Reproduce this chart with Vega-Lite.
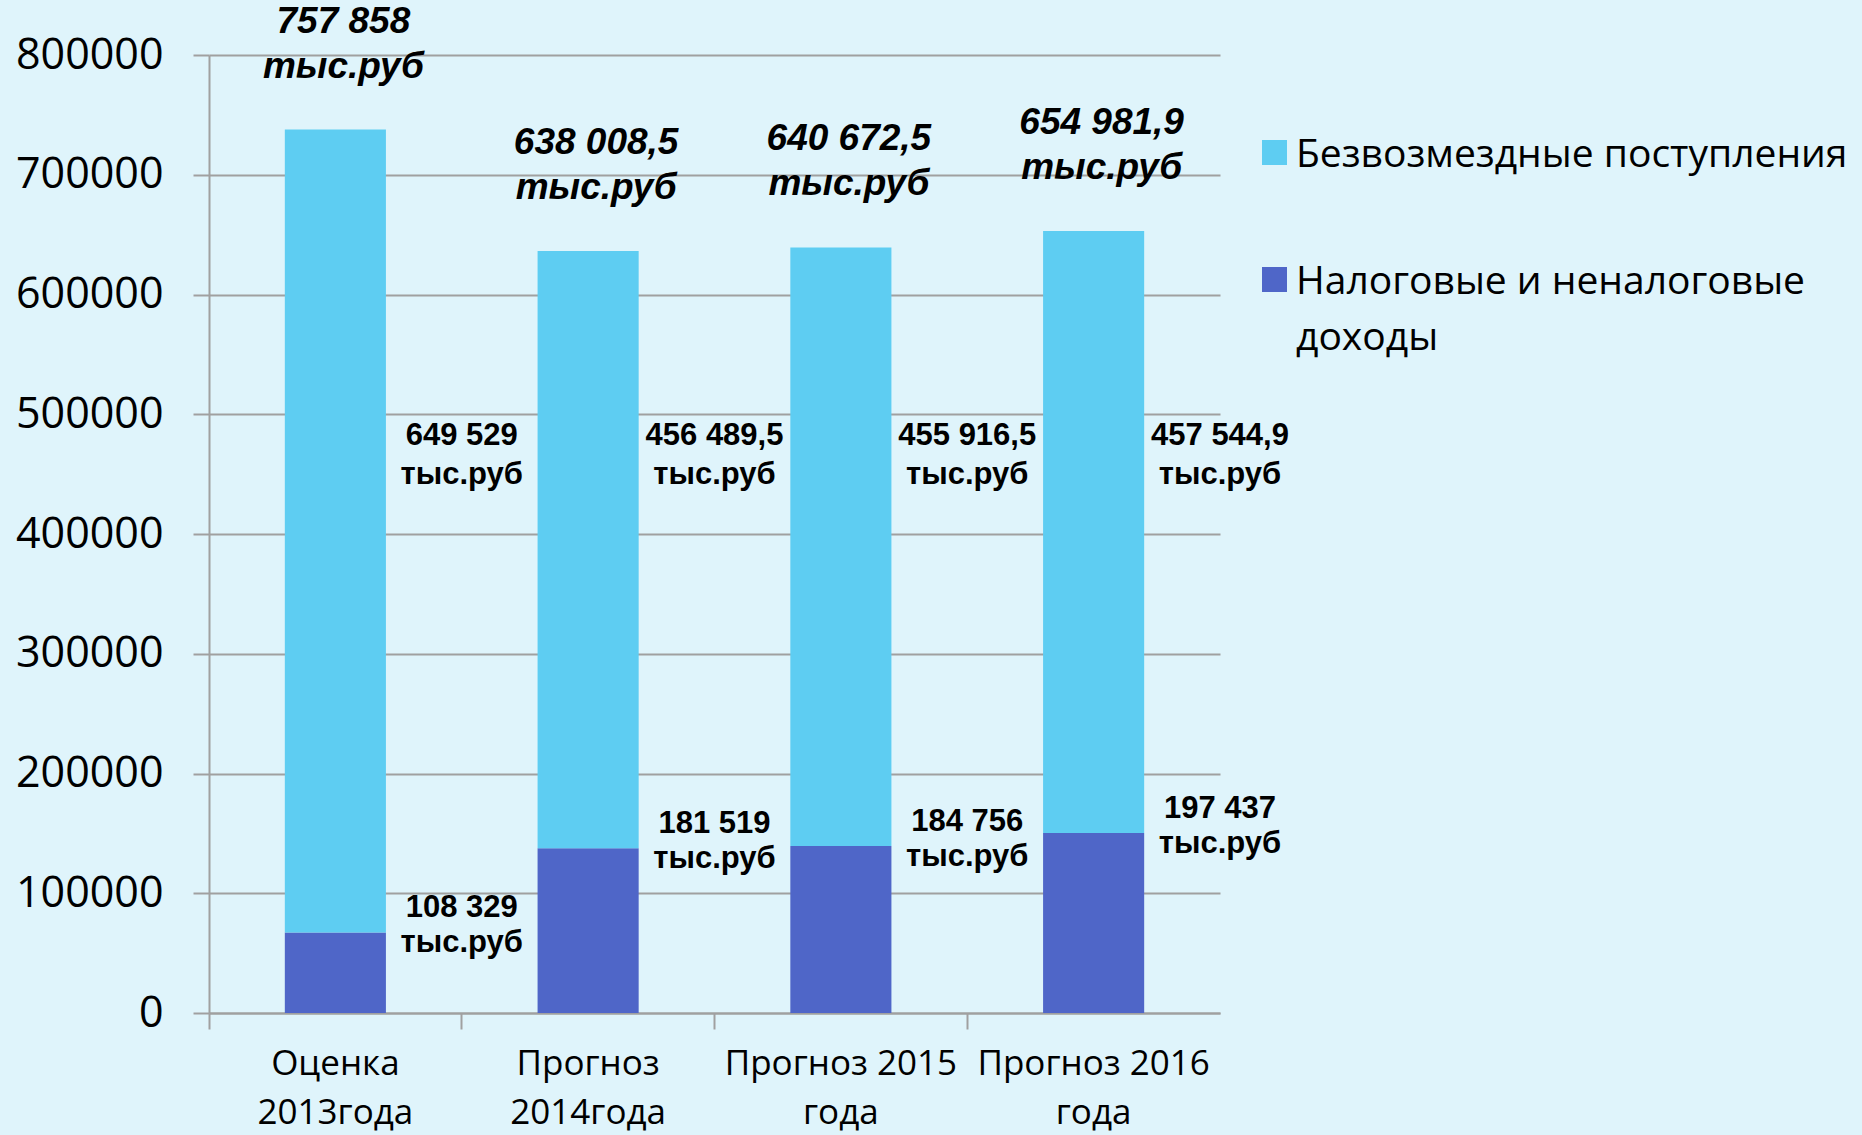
{
  "$schema": "https://vega.github.io/schema/vega-lite/v6.json",
  "autosize": {"type": "none"},
  "padding": {"left": 209, "top": 55, "right": 642, "bottom": 122},
  "width": 1011,
  "height": 958,
  "background": "#dff4fb",
  "config": {"view": {"stroke": null}},
  "data": {
    "values": [
      {"cat": "Оценка|2013года", "part": "Налоговые и неналоговые доходы", "value": 67300, "lbl": "108 329\nтыс.руб", "tlbl": "757 858\nтыс.руб"},
      {"cat": "Оценка|2013года", "part": "Безвозмездные поступления", "value": 670400, "lbl": "649 529\nтыс.руб", "tlbl": "757 858\nтыс.руб"},
      {"cat": "Прогноз|2014года", "part": "Налоговые и неналоговые доходы", "value": 137500, "lbl": "181 519\nтыс.руб", "tlbl": "638 008,5\nтыс.руб"},
      {"cat": "Прогноз|2014года", "part": "Безвозмездные поступления", "value": 498800, "lbl": "456 489,5\nтыс.руб", "tlbl": "638 008,5\nтыс.руб"},
      {"cat": "Прогноз 2015|года", "part": "Налоговые и неналоговые доходы", "value": 139400, "lbl": "184 756\nтыс.руб", "tlbl": "640 672,5\nтыс.руб"},
      {"cat": "Прогноз 2015|года", "part": "Безвозмездные поступления", "value": 499900, "lbl": "455 916,5\nтыс.руб", "tlbl": "640 672,5\nтыс.руб"},
      {"cat": "Прогноз 2016|года", "part": "Налоговые и неналоговые доходы", "value": 150300, "lbl": "197 437\nтыс.руб", "tlbl": "654 981,9\nтыс.руб"},
      {"cat": "Прогноз 2016|года", "part": "Безвозмездные поступления", "value": 502800, "lbl": "457 544,9\nтыс.руб", "tlbl": "654 981,9\nтыс.руб"}
    ]
  },
  "layer": [
    {
      "mark": {"type": "bar", "width": {"band": 0.4}},
      "encoding": {
        "x": {
          "field": "cat", "type": "nominal", "sort": null,
          "scale": {"paddingInner": 0, "paddingOuter": 0},
          "axis": {
            "title": null, "labelExpr": "split(datum.label, '|')", "labelAngle": 0,
            "labelFont": "Open Sans", "labelFontSize": 35, "labelLineHeight": 49,
            "labelColor": "#000000", "labelLimit": 500, "labelPadding": 17,
            "tickSize": 16, "tickColor": "#a0a0a0", "tickWidth": 2, "bandPosition": 0,
            "domainColor": "#a0a0a0", "domainWidth": 2, "grid": false
          }
        },
        "y": {
          "field": "value", "type": "quantitative", "stack": "zero",
          "scale": {"domain": [0, 800000], "nice": false},
          "axis": {
            "title": null,
            "values": [0, 100000, 200000, 300000, 400000, 500000, 600000, 700000, 800000],
            "format": "d", "labelFont": "Open Sans", "labelFontSize": 43, "labelColor": "#000000",
            "labelPadding": 30, "tickSize": 16, "tickColor": "#a0a0a0", "tickWidth": 2,
            "gridColor": "#a0a0a0", "gridWidth": 2, "domainColor": "#a0a0a0", "domainWidth": 2
          }
        },
        "color": {
          "field": "part", "type": "nominal",
          "scale": {
            "domain": ["Безвозмездные поступления", "Налоговые и неналоговые доходы"],
            "range": ["#5ecdf2", "#4f66c8"]
          },
          "legend": {
            "orient": "none", "legendX": 1046, "legendY": 78, "title": null,
            "labelFont": "Open Sans", "labelFontSize": 39, "labelColor": "#000000",
            "symbolType": "square", "symbolSize": 625, "symbolStrokeWidth": 0, "symbolOpacity": 1,
            "rowPadding": 85, "labelOffset": 2, "labelLimit": 700, "padding": 0,
            "labelBaseline": "alphabetic",
            "labelExpr": "datum.label == 'Налоговые и неналоговые доходы' ? ['Налоговые и неналоговые', 'доходы'] : datum.label",
            "encode": {"labels": {"update": {"lineHeight": {"value": 56}, "dy": {"value": 14}}}}
          }
        },
        "order": {"field": "part", "sort": "descending"}
      }
    },
    {
      "transform": [{"filter": "datum.part == 'Безвозмездные поступления'"}],
      "mark": {"type": "text", "lineBreak": "\n", "font": "Liberation Sans", "fontWeight": "bold", "fontSize": 31, "lineHeight": 39, "baseline": "middle", "align": "center", "color": "#000000"},
      "encoding": {
        "x": {"field": "cat", "type": "nominal", "sort": null, "bandPosition": 1, "title": null},
        "y": {"datum": 481600, "type": "quantitative", "title": null},
        "text": {"field": "lbl", "type": "nominal"}
      }
    },
    {
      "transform": [{"filter": "datum.part == 'Налоговые и неналоговые доходы'"}],
      "mark": {"type": "text", "lineBreak": "\n", "font": "Liberation Sans", "fontWeight": "bold", "fontSize": 31, "lineHeight": 35, "baseline": "middle", "align": "center", "color": "#000000", "dy": -24},
      "encoding": {
        "x": {"field": "cat", "type": "nominal", "sort": null, "bandPosition": 1, "title": null},
        "y": {"field": "value", "type": "quantitative", "title": null},
        "text": {"field": "lbl", "type": "nominal"}
      }
    },
    {
      "transform": [{"aggregate": [{"op": "sum", "field": "value", "as": "total"}], "groupby": ["cat", "tlbl"]}],
      "mark": {"type": "text", "lineBreak": "\n", "font": "Liberation Sans", "fontWeight": "bold", "fontStyle": "italic", "fontSize": 37, "lineHeight": 45, "baseline": "middle", "align": "center", "color": "#000000", "dy": -108, "dx": 8},
      "encoding": {
        "x": {"field": "cat", "type": "nominal", "sort": null, "title": null},
        "y": {"field": "total", "type": "quantitative", "title": null},
        "text": {"field": "tlbl", "type": "nominal"}
      }
    }
  ]
}
